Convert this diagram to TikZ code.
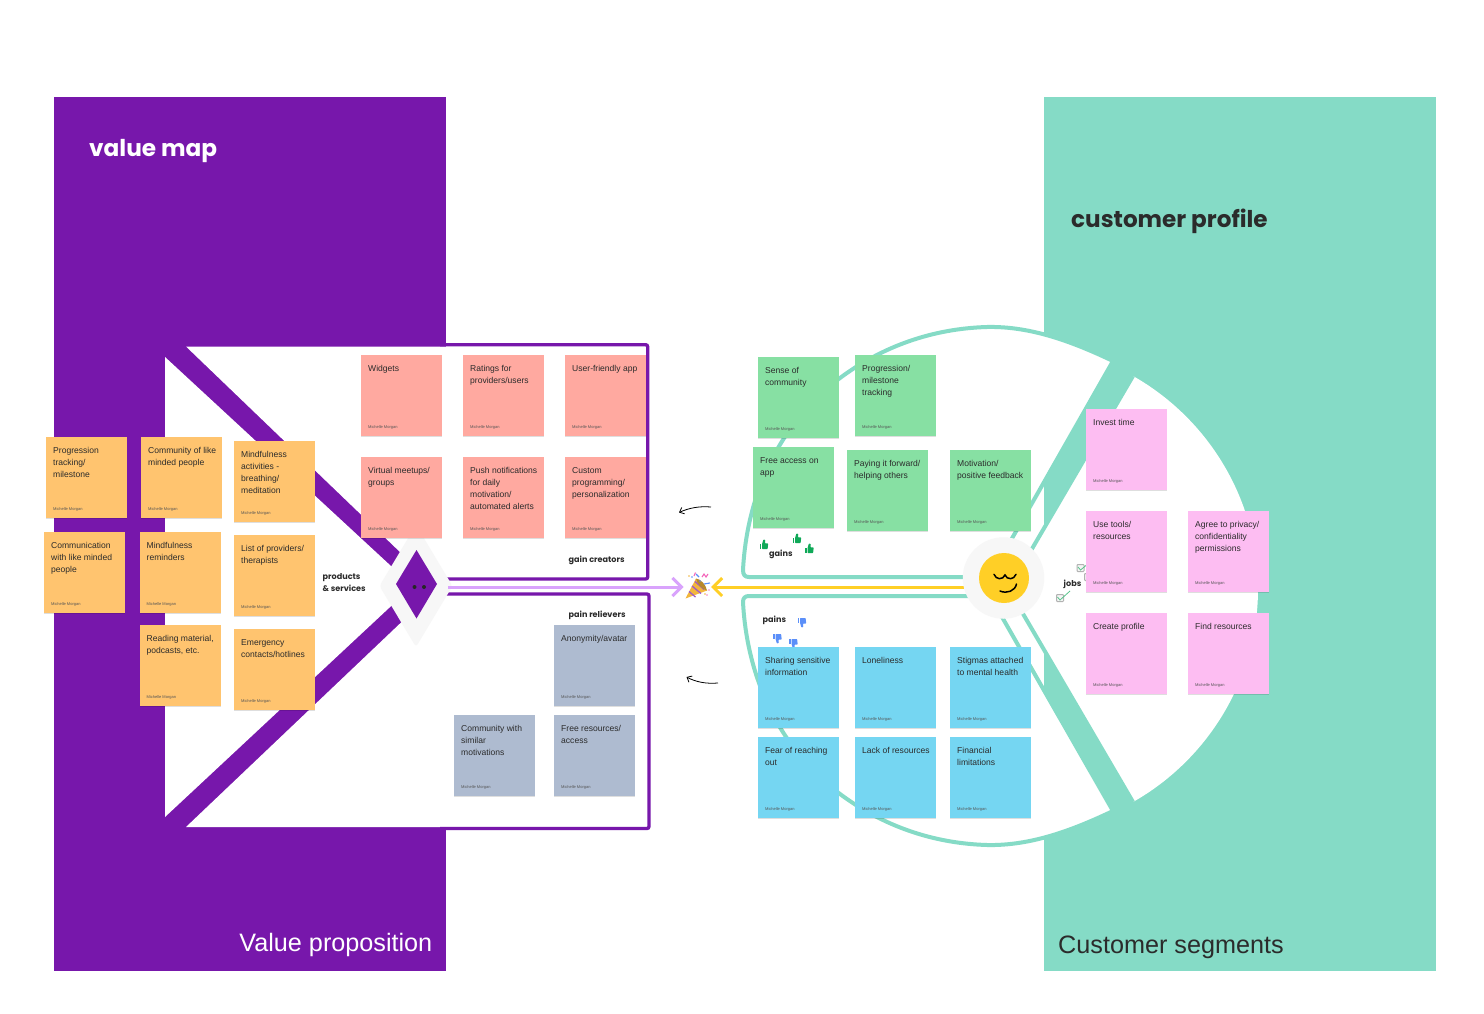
\documentclass[tikz,border=0pt]{standalone}
\usepackage{fontspec}
\setmainfont{Liberation Sans}
\newfontfamily\headfont{Poppins}
\usetikzlibrary{arrows.meta,shadows}
\definecolor{vpurple}{HTML}{7717AB}
\definecolor{vteal}{HTML}{85DBC6}
\definecolor{sorange}{HTML}{FFC46F}
\definecolor{ssalmon}{HTML}{FFA9A0}
\definecolor{sgrey}{HTML}{AEBBD0}
\definecolor{sgreen}{HTML}{87E0A3}
\definecolor{sblue}{HTML}{75D6F2}
\definecolor{spink}{HTML}{FDBDF2}
\definecolor{vink}{HTML}{2B2B2B}
\definecolor{hubgrey}{HTML}{F7F7F7}
\definecolor{linkpink}{HTML}{D9A3FC}
\definecolor{linkyellow}{HTML}{FFCF26}
\definecolor{thumbgreen}{HTML}{0FA958}
\definecolor{thumbblue}{HTML}{5B8FF9}
\definecolor{popgold}{HTML}{F2B63C}
\tikzset{
  stickybox/.style={rectangle,inner sep=0pt,minimum width=81pt,minimum height=81pt,anchor=north west,
    drop shadow={shadow xshift=0pt,shadow yshift=-1pt,opacity=.13,fill=black}},
  stickytext/.style={inner sep=0pt,anchor=north west,align=left,text=vink,font=\fontsize{8.55}{12}\selectfont},
  stickyauthor/.style={inner sep=0pt,anchor=west,text=vink!80,font=\fontsize{4}{4.5}\selectfont},
  sidelabel/.style={inner sep=0pt,align=left,text=vink,font=\headfont\bfseries\fontsize{8.1}{12}\selectfont},
  teal line/.style={draw=vteal,line width=4pt,line join=round},
  border line/.style={draw=vpurple,line width=3.3pt,rounded corners=2pt},
  handarrow/.style={draw=black,line width=.8pt,-{Straight Barb[length=4pt,width=7pt]}},
  pics/thumbup/.style={code={
    \fill[white,draw=white,line width=2pt,line join=round] (-4.5,-1)--(-1.5,-1)--(-.5,-5.5)--(1.5,-5)--(1,-1.5)--(4.2,-1.5)--(3.6,4)--(-4.5,4)--cycle;
    \fill[#1] (-4.5,-.8) rectangle (-2.6,4);
    \fill[#1,rounded corners=.6pt] (-2,-.8)--(-.6,-5.5)--(1.3,-5)--(1,-1.6)--(4.2,-1.6)--(3.6,4)--(-2,4)--cycle;
  }},
  checkbox/.style={draw=black!30,fill=black!4,line width=1pt,rounded corners=.8pt,minimum size=7pt,inner sep=0pt},
}
\newcommand{\sticky}[5]{%
  \node[stickybox,fill=#4] (#1) at (#2,#3) {};
  \node[stickytext] (#1-t) at (#2+7,#3+9.4) {\rule{0pt}{7pt}#5};
  \node[stickyauthor] (#1-a) at (#2+7,#3+72) {Michelle Morgan};
}
\begin{document}
\begin{tikzpicture}[x=1pt,y=-1pt]
\useasboundingbox (0,0) rectangle (1484,1014);
\fill[white] (0,0) rectangle (1484,1014);

% ---------- value map ----------
\fill[vpurple] (54,97) rectangle (446,971);
\fill[white] (186,346.5)--(647,346.5)--(647,578)--(427,578)--cycle;
\fill[white] (186,827)--(648,827)--(648,595)--(430,595)--cycle;
\fill[white] (165,357)--(412.6,586)--(165,817)--cycle;
\draw[border line] (440,344.7)--(647.7,344.7)--(647.7,579)--(430,579);
\draw[border line] (430,594)--(649,594)--(649,828.5)--(440,828.5);
\fill[hubgrey,rounded corners=3pt] (416,525)--(452.5,586)--(416,647)--(379.5,586)--cycle;
\fill[vpurple] (416.5,550)--(437,584)--(416.5,618.5)--(396,584)--cycle;
\fill[black!85] (414.5,587) circle (2pt) (424,587) circle (2pt);

\node[anchor=west,inner sep=0pt,text=white,font=\headfont\bfseries\fontsize{23.2}{28}\selectfont] (vmtitle) at (89,151) {value map};
\node[anchor=east,inner sep=0pt,text=white,font=\fontsize{25.2}{28}\selectfont] (vptitle) at (432.5,945) {Value proposition};

% ---------- customer profile ----------
\fill[vteal] (1044,97) rectangle (1436,971);
\path[fill=white] (1008.5,589)--(1133,376) .. controls (1209.6,419.5) and (1258,501) .. (1258,589)
  .. controls (1258,677) and (1209.6,758.5) .. (1133,802) -- cycle;
\draw[teal line] (1133,376)--(1008.5,589)--(1133,802);
\draw[teal line,fill=white] (1113,361)--(990,577)--(749,577)
  .. controls (745,577) and (743,575) .. (743,570)
  .. controls (747,494) and (779,424) .. (840,378)
  .. controls (883,346) and (933,328.6) .. (987,327)
  .. controls (1031,326) and (1073,342) .. (1113,361) -- cycle;
\draw[teal line,fill=white] (1113,811)--(990,596)--(749,596)
  .. controls (745,596) and (743,598) .. (743,602)
  .. controls (747,678) and (779,748) .. (840,794)
  .. controls (883,826) and (933,843.4) .. (987,845)
  .. controls (1031,846) and (1073,830) .. (1113,811) -- cycle;

\node[anchor=west,inner sep=0pt,text=vink,font=\headfont\bfseries\fontsize{23.1}{28}\selectfont] (cptitle) at (1071,221.5) {customer profile};
\node[anchor=west,inner sep=0pt,text=vink,font=\fontsize{25.2}{28}\selectfont] (cstitle) at (1058,947) {Customer segments};

% ---------- links between the two ----------
\coordinate (pinkstart) at (448,587);
\coordinate (pinkend) at (683.5,587);
\coordinate (yellowstart) at (970,587);
\coordinate (yellowend) at (711,587);
\draw[linkpink,line width=3pt,-{Straight Barb[length=9pt,width=18pt,line width=3pt]}] (pinkstart)--(pinkend);
\draw[linkyellow,line width=3pt,-{Straight Barb[length=9pt,width=18pt,line width=3pt]}] (yellowstart)--(yellowend);

% party popper
\fill[popgold] (685.5,598.5)--(696,578.5)--(707,590.5)--cycle;
\draw[vpurple!70,line width=1.3pt] (689,591.5)--(695.5,597) (692,586)--(701,593.5) (695,581.5)--(704,589.5);
\fill[popgold!75!black] (696,578.5) .. controls (701,579) and (706,585) .. (707,590.5) .. controls (702,589.5) and (697,584) .. (696,578.5);
\draw[thumbblue,line width=1.1pt] (704,584)--(710,583) (699,577)--(696,574);
\draw[magenta!60,line width=1.1pt] (702,577)--(704,574)--(706,577)--(708,574) (694,576)--(695.5,572.5);
\fill[thumbblue] (700,581) circle (.9pt) (692,577) circle (.9pt);
\fill[magenta!50] (709,590) circle (.9pt) (707,595) circle (.8pt);
\fill[popgold] (705,594) circle (.9pt) (689,576) circle (.8pt);

% hand drawn arrows
\coordinate (gainarrowa) at (711,507);
\coordinate (gainarrowb) at (679,512.5);
\coordinate (painarrowa) at (718,683);
\coordinate (painarrowb) at (686.5,677);
\draw[handarrow] (gainarrowa) .. controls (699,506) and (689,508) .. (gainarrowb);
\draw[handarrow] (painarrowa) .. controls (706,684) and (696,682) .. (painarrowb);

% hub with smiley
\node[circle,fill=hubgrey,minimum size=81.5pt,inner sep=0pt] (hub) at (1003.5,578) {};
\node[circle,fill=linkyellow,minimum size=50pt,inner sep=0pt] (smile) at (1004,578) {};
\draw[black,line width=1.5pt,line cap=round] (994,574.3) .. controls (996,580) and (1003,580) .. (1005,575) .. controls (1007,580) and (1014,580) .. (1016,574.3);
\draw[black,line width=1.5pt,line cap=round] (1000,591) .. controls (1007,594) and (1015,591) .. (1016.5,584);

% thumbs
\pic at (764,545) {thumbup=thumbgreen};
\pic at (797,539) {thumbup=thumbgreen};
\pic at (809.5,549) {thumbup=thumbgreen};
\pic[yscale=-1] at (802,622) {thumbup=thumbblue};
\pic[yscale=-1] at (777.5,638) {thumbup=thumbblue};
\pic[yscale=-1] at (793.5,643) {thumbup=thumbblue};

% check boxes
\node[checkbox] (chk1) at (1080.5,568) {};
\node[checkbox] (chk2) at (1060,598) {};
\node[checkbox] (chk3) at (1088,577) {};
\draw[thumbgreen!70,line width=.8pt] (1057.5,597)--(1060,600)--(1070,591);
\draw[thumbgreen!70,line width=.8pt] (1078,567)--(1080.5,570)--(1089,563);

% section labels
\node[sidelabel,anchor=west] (lblprod) at (322.5,583) {products\\\& services};
\node[sidelabel,anchor=west] (lblgain) at (568.5,560) {gain creators};
\node[sidelabel,anchor=west] (lblpainr) at (568.5,615) {pain relievers};
\node[sidelabel,anchor=west] (lblgains) at (769,554) {gains};
\node[sidelabel,anchor=west] (lblpains) at (762.5,620) {pains};
\node[sidelabel,anchor=west] (lbljobs) at (1063.5,584.5) {jobs};

% ---------- stickies: products and services ----------
\sticky{pa}{46}{437}{sorange}{Progression\\tracking/\\milestone}
\sticky{pb}{141}{437}{sorange}{Community of like\\minded people}
\sticky{pc}{234}{441}{sorange}{Mindfulness\\activities -\\breathing/\\meditation}
\sticky{pd}{44}{532}{sorange}{Communication\\with like minded\\people}
\sticky{pe}{139.5}{532}{sorange}{Mindfulness\\reminders}
\sticky{pf}{234}{535}{sorange}{List of providers/\\therapists}
\sticky{pg}{139.5}{625}{sorange}{Reading material,\\podcasts, etc.}
\sticky{ph}{234}{629}{sorange}{Emergency\\contacts/hotlines}
% gain creators
\sticky{ga}{361}{355}{ssalmon}{Widgets}
\sticky{gb}{463}{355}{ssalmon}{Ratings for\\providers/users}
\sticky{gc}{565}{355}{ssalmon}{User-friendly app}
\sticky{gd}{361}{457}{ssalmon}{Virtual meetups/\\groups}
\sticky{ge}{463}{457}{ssalmon}{Push notifications\\for daily\\motivation/\\automated alerts}
\sticky{gf}{565}{457}{ssalmon}{Custom\\programming/\\personalization}
% pain relievers
\sticky{ra}{554}{625}{sgrey}{Anonymity/avatar}
\sticky{rb}{454}{715}{sgrey}{Community with\\similar\\motivations}
\sticky{rc}{554}{715}{sgrey}{Free resources/\\access}
% gains
\sticky{ca}{758}{357}{sgreen}{Sense of\\community}
\sticky{cb}{855}{355}{sgreen}{Progression/\\milestone\\tracking}
\sticky{cc}{753}{447}{sgreen}{Free access on\\app}
\sticky{cd}{847}{450}{sgreen}{Paying it forward/\\helping others}
\sticky{ce}{950}{450}{sgreen}{Motivation/\\positive feedback}
% pains
\sticky{da}{758}{647}{sblue}{Sharing sensitive\\information}
\sticky{db}{855}{647}{sblue}{Loneliness}
\sticky{dc}{950}{647}{sblue}{Stigmas attached\\to mental health}
\sticky{dd}{758}{737}{sblue}{Fear of reaching\\out}
\sticky{de}{855}{737}{sblue}{Lack of resources}
\sticky{df}{950}{737}{sblue}{Financial\\limitations}
% jobs
\sticky{ja}{1086}{409}{spink}{Invest time}
\sticky{jb}{1086}{511}{spink}{Use tools/\\resources}
\sticky{jc}{1188}{511}{spink}{Agree to privacy/\\confidentiality\\permissions}
\sticky{jd}{1086}{613}{spink}{Create profile}
\sticky{je}{1188}{613}{spink}{Find resources}
\end{tikzpicture}
\end{document}
